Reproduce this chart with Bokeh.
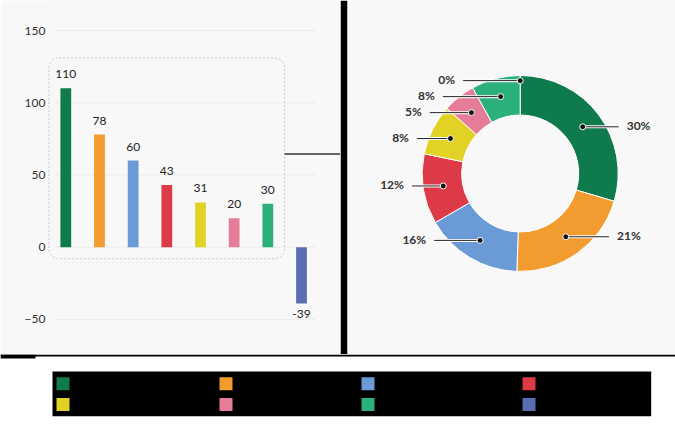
import math
from bokeh.plotting import figure
from bokeh.layouts import column, row
from bokeh.models import Range1d, FixedTicker
from bokeh.core.properties import value
from bokeh.embed import file_html
from bokeh.resources import INLINE

# ---------------- data ----------------
categories = ["Germany", "Japan", "Australia", "United States",
              "Argentina", "Italy", "India", "Denmark"]
values = [110, 78, 60, 43, 31, 20, 30, -39]
colors = ["#0f7b4d", "#f29b2f", "#6b9bd6", "#dc3a47",
          "#e2d226", "#e67d98", "#2bb07b", "#5a6fb3"]
y_ticks = [-50, 0, 50, 100, 150]

FONT = "Lato"
PANEL = "#f8f8f8"
TXT = "#333333"

idx = list(range(len(values)))

TOTAL_W = 675
BAR_W = 340
DONUT_W = TOTAL_W - BAR_W

# ---------------- bar chart ----------------
X0, X1 = -0.573, 8.158
bar = figure(width=BAR_W, height=354,
             x_range=Range1d(X0, X1), y_range=Range1d(-74.3, 170.8),
             output_backend="svg", toolbar_location=None, x_axis_location=None,
             min_border_left=46, min_border_right=0, min_border_top=0, min_border_bottom=0,
             background_fill_color=PANEL, border_fill_color=PANEL, outline_line_color=None)
bar.grid.visible = False
yax = bar.yaxis[0]
yax.ticker = FixedTicker(ticks=y_ticks)
yax.axis_line_color = None
yax.major_tick_line_color = None
yax.minor_tick_line_color = None
yax.major_tick_out = 0
yax.major_tick_in = 0
yax.major_label_standoff = 1
yax.major_label_text_font = FONT
yax.major_label_text_font_size = "12px"
yax.major_label_text_color = TXT

grid_start = -0.306
grid_end = len(values) - 1 + 0.416
bar.segment(x0=[grid_start] * len(y_ticks), x1=[grid_end] * len(y_ticks),
            y0=y_ticks, y1=y_ticks, line_color="#ebebeb", line_width=1)

bar.vbar(x=idx, top=values, bottom=0, width=0.32, fill_color=colors, line_color=None)
bar.text(x=idx, y=values, text=[str(v) for v in values],
         y_offset=[-14 if v >= 0 else 10 for v in values],
         text_align="center", text_baseline="middle",
         text_font=value(FONT), text_font_size="12px", text_color="#222222")

pos_idx = [i for i, v in enumerate(values) if v > 0]
box_left = min(pos_idx) - 0.5
box_right = max(pos_idx) + 0.5
box_top = max(values) + 21
box_bottom = -8
bar.quad(left=[box_left], right=[box_right], top=[box_top], bottom=[box_bottom],
         fill_color=None, line_color="#c6c6c6", line_width=1, line_dash="2 2",
         border_radius=10)
mid_y = 0.5 * (box_top + box_bottom) + 3
bar.line(x=[box_right, X1], y=[mid_y, mid_y], line_color="#333333", line_width=1.5)

# ---------------- donut ----------------
donut = figure(width=DONUT_W, height=354,
               x_range=Range1d(0, DONUT_W - 7), y_range=Range1d(0, 354),
               output_backend="svg", toolbar_location=None,
               x_axis_location=None, y_axis_location=None,
               min_border_left=7, min_border_right=0, min_border_top=0, min_border_bottom=0,
               background_fill_color=PANEL, border_fill_color="black", outline_line_color=None)
donut.grid.visible = False

cx, cy = 172.7, 181.0
r_in, r_out = 58.5, 98.0
r_dot, r_lab = 78.0, 109.0

total = sum(v for v in values if v > 0)
shares = [max(v, 0) / total for v in values]
cum = [0.0]
for s in shares:
    cum.append(cum[-1] + s)

w_start, w_end, w_col = [], [], []
for i, s in enumerate(shares):
    if s > 0:
        w_start.append(math.pi / 2 - 2 * math.pi * cum[i])
        w_end.append(math.pi / 2 - 2 * math.pi * cum[i + 1])
        w_col.append(colors[i])
donut.annular_wedge(x=cx, y=cy, inner_radius=r_in, outer_radius=r_out,
                    start_angle=w_start, end_angle=w_end, direction="clock",
                    fill_color=w_col, line_color="#ffffff", line_width=1)

# label placement
labels = []
for i, s in enumerate(shares):
    theta = math.pi * (cum[i] + cum[i + 1])
    dx = r_dot * math.sin(theta)
    dy = r_dot * math.cos(theta)
    side = 1 if theta < math.pi else -1
    labels.append([i, dx, dy, side])

gap = 16
prev = None
for lab in labels:  # right side goes downward
    if lab[3] == 1:
        if prev is not None and lab[2] > prev - gap:
            lab[2] = prev - gap
        prev = lab[2]
prev = None
for lab in labels:  # left side goes upward
    if lab[3] == -1:
        if prev is not None and lab[2] < prev + gap:
            lab[2] = prev + gap
        prev = lab[2]

dot_x, dot_y, end_x, txt_x, txt, aligns = [], [], [], [], [], []
for i, dx, dy, side in labels:
    dot_x.append(cx + dx)
    dot_y.append(cy + dy)
    ex = cx + side * math.sqrt(max(r_lab ** 2 - dy ** 2, 0))
    end_x.append(ex)
    txt_x.append(ex + side * 8)
    txt.append(f"{round(shares[i] * 100)}%")
    aligns.append("left" if side == 1 else "right")

donut.segment(x0=dot_x, y0=dot_y, x1=end_x, y1=dot_y, line_color="#ffffff", line_width=3)
donut.segment(x0=dot_x, y0=dot_y, x1=end_x, y1=dot_y, line_color="#222222", line_width=1)
donut.scatter(x=dot_x, y=dot_y, size=6, fill_color="#111111", line_color="#ffffff", line_width=1)
donut.text(x=txt_x, y=dot_y, text=txt, text_align=aligns, text_baseline="middle",
           y_offset=-1, text_font=value(FONT), text_font_size="12px",
           text_font_style="bold", text_color=TXT)

# ---------------- bottom strip / legend ----------------
bot = figure(width=TOTAL_W, height=67, x_range=Range1d(0, TOTAL_W), y_range=Range1d(67, 0),
             output_backend="svg", toolbar_location=None,
             x_axis_location=None, y_axis_location=None,
             min_border_left=0, min_border_right=0, min_border_top=0, min_border_bottom=0,
             background_fill_color="#ffffff", border_fill_color="#ffffff", outline_line_color=None)
bot.grid.visible = False
bot.quad(left=[0, 0, 52], right=[TOTAL_W, 35, 650.7], top=[0, 0, 17], bottom=[2, 4, 61.7],
         fill_color="#000000", line_color=None)

col_offsets = [0, 163, 305, 466]
row_centers = [29.3, 50.0]
sq = 13
sq_l, sq_r, sq_t, sq_b, lx, ly = [], [], [], [], [], []
for i in idx:
    c, r = i % 4, i // 4
    x0 = 56 + col_offsets[c]
    yc = row_centers[r]
    sq_l.append(x0)
    sq_r.append(x0 + sq)
    sq_t.append(yc - sq / 2)
    sq_b.append(yc + sq / 2)
    lx.append(x0 + sq + 12)
    ly.append(yc)
bot.quad(left=sq_l, right=sq_r, top=sq_t, bottom=sq_b, fill_color=colors, line_color=None)
bot.text(x=lx, y=ly, text=categories, text_align="left", text_baseline="middle",
         text_font=value(FONT), text_font_size="12px", text_color="#030303")

layout = column(row(bar, donut, spacing=0), bot, spacing=0)
open("out.html", "w").write(file_html(layout, INLINE))
